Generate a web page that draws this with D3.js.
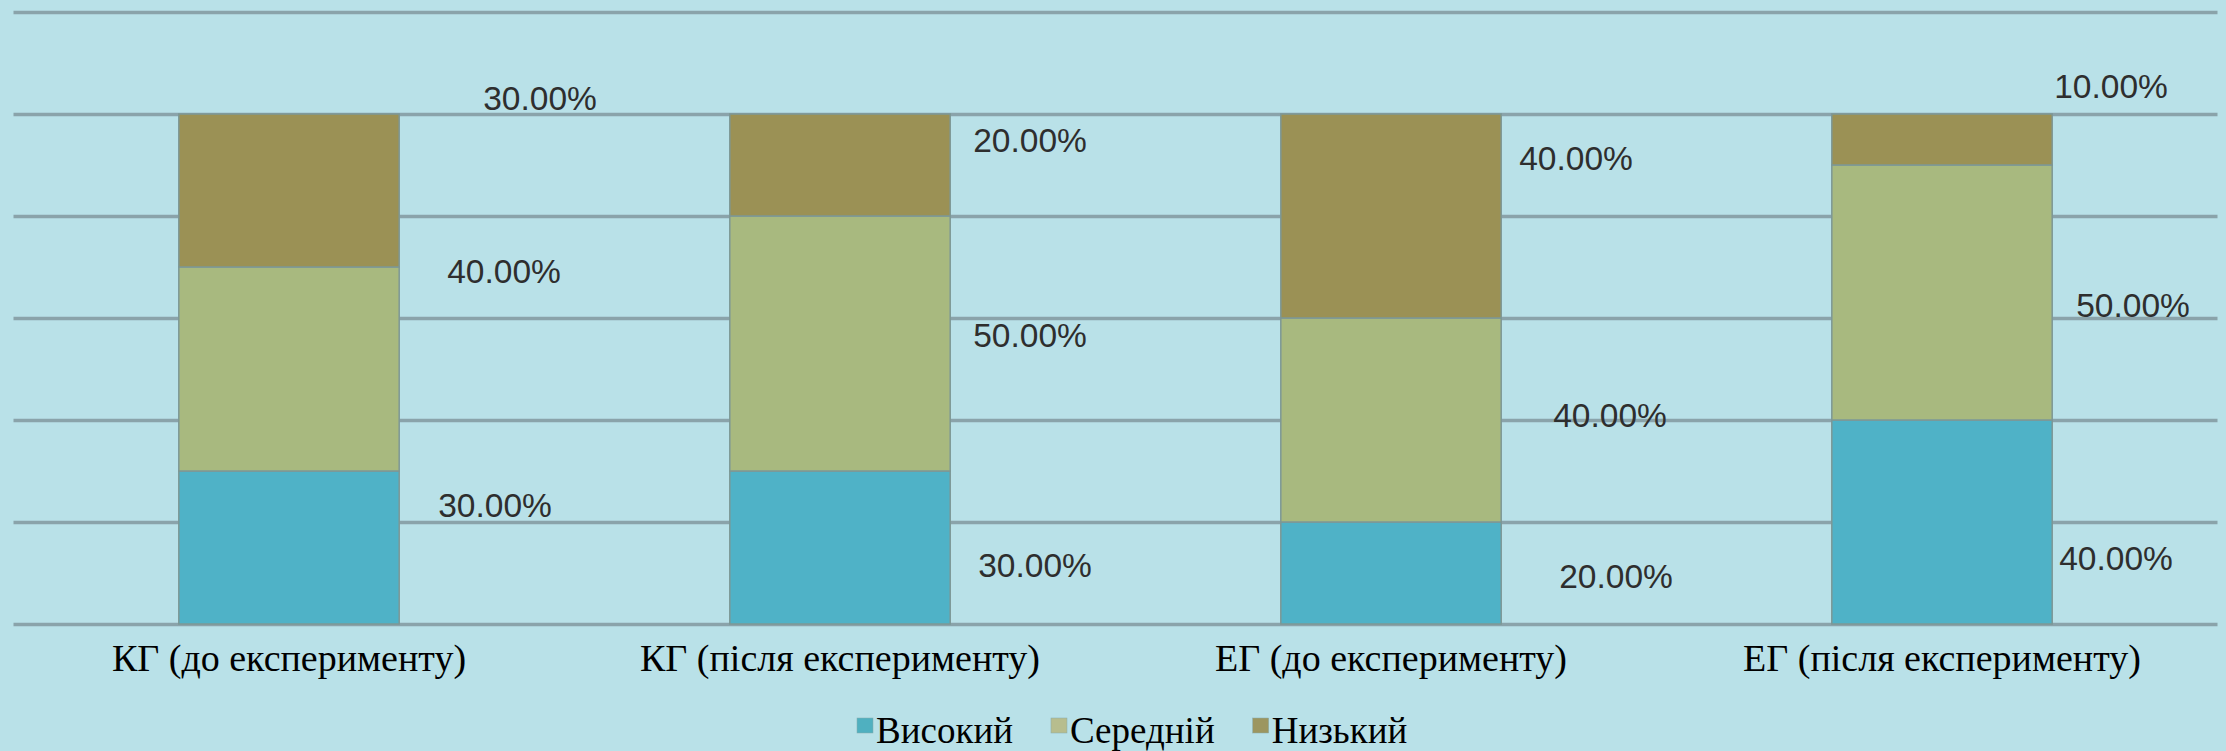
<!DOCTYPE html>
<html>
<head>
<meta charset="utf-8">
<script src="https://cdn.jsdelivr.net/npm/d3@7/dist/d3.min.js"></script>
<style>
  html, body { margin: 0; padding: 0; background: #b9e1e8; }
  svg { display: block; }
</style>
</head>
<body>
<svg id="chart" width="2226" height="751"></svg>
<script>
// ---- data ----
const categories = ["КГ (до експерименту)", "КГ (після експерименту)", "ЕГ (до експерименту)", "ЕГ (після експерименту)"];
const seriesNames = ["Високий", "Середній", "Низький"];
const high   = [0.30, 0.30, 0.20, 0.40];
const medium = [0.40, 0.50, 0.40, 0.50];
const low    = [0.30, 0.20, 0.40, 0.10];
const yTicks = [0, 0.2, 0.4, 0.6, 0.8, 1.0, 1.2];

// ---- layout / style (not data) ----
const colors = ["#4fb2c7", "#a8b97f", "#9b9155"];
const legendColors = ["#4fb0c0", "#b7bd8e", "#9c9660"];
// manual label nudges (px) relative to (bar right edge, segment middle), per series per category
const labelDx = [[39, 28, 58, 7], [48, 23, 52, 24], [84, 23, 18, 2]];
const labelDy = [[-30.5, 29.5, 15, 48], [-86, 3.5, 7, 24.5], [-80.5, -13, -46, -41.5]];

const svg = d3.select("#chart");
const W = 2226, H = 751;
svg.append("rect").attr("width", W).attr("height", H).attr("fill", "#b9e1e8");

const left = 13.5, right = 2217.5, y0 = 624, yTop = 12;

const x = d3.scaleBand().domain(categories).range([left, right]).paddingInner(0.6).paddingOuter(0.3);
const y = d3.scaleLinear().domain([0, 1.2]).range([y0, yTop]);

// gridlines
const grid = svg.append("g").attr("transform", `translate(${left},0)`)
  .call(d3.axisRight(y).tickValues(yTicks).tickSize(right - left).tickFormat(""));
grid.select(".domain").remove();
grid.selectAll(".tick line").attr("stroke", "#8aa3aa").attr("stroke-width", 3.5);

// stacked data
const rows = categories.map((c, i) => ({ cat: c, s0: high[i], s1: medium[i], s2: low[i] }));
const stack = d3.stack().keys(["s0", "s1", "s2"]);
const layers = stack(rows);

const fmt = d3.format(".2%");

layers.forEach((layer, si) => {
  svg.append("g").selectAll("rect").data(layer).join("rect")
    .attr("x", d => x(d.data.cat))
    .attr("width", x.bandwidth())
    .attr("y", d => y(d[1]))
    .attr("height", d => y(d[0]) - y(d[1]))
    .attr("fill", colors[si])
    .attr("stroke", "#7d9896")
    .attr("stroke-width", 1.5);
});

layers.forEach((layer, si) => {
  svg.append("g").selectAll("text").data(layer).join("text")
    .attr("x", (d, i) => x(d.data.cat) + x.bandwidth() + labelDx[si][i])
    .attr("y", (d, i) => (y(d[0]) + y(d[1])) / 2 + labelDy[si][i])
    .attr("font-family", "'Liberation Sans', Arial, sans-serif")
    .attr("font-size", 33.5)
    .attr("fill", "#2e2e2e")
    .text(d => fmt(d[1] - d[0]));
});

// category axis
const xa = svg.append("g").attr("transform", `translate(0,${y0})`)
  .call(d3.axisBottom(x).tickSize(0));
xa.select(".domain").remove();
xa.selectAll(".tick text")
  .attr("dy", null).attr("y", 47)
  .attr("font-family", "'Liberation Serif', 'Times New Roman', serif")
  .attr("font-size", 38)
  .attr("fill", "#000");

// legend
const lg = svg.append("g");
let lx = 857;
seriesNames.forEach((name, i) => {
  lg.append("rect").attr("x", lx).attr("y", 718).attr("width", 16).attr("height", 15)
    .attr("fill", legendColors[i]).attr("stroke", "#8aa").attr("stroke-width", 0.5);
  const t = lg.append("text").attr("x", lx + 19).attr("y", 743)
    .attr("font-family", "'Liberation Serif', 'Times New Roman', serif")
    .attr("font-size", 37).attr("fill", "#000").text(name);
  lx += 19 + t.node().getComputedTextLength() + 38;
});
</script>
</body>
</html>
